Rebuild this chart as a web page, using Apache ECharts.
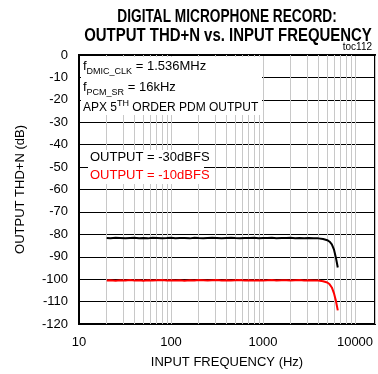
<!DOCTYPE html>
<html><head><meta charset="utf-8">
<script src="https://cdn.jsdelivr.net/npm/echarts@6/dist/echarts.min.js"></script>
<style>html,body{margin:0;padding:0;background:#fff}#c{width:378px;height:374px}</style>
</head><body><div id="c"></div>
<script>
const freqs = [20, 22, 25, 28, 32, 36, 40, 45, 50, 56, 63, 71, 80, 90, 100, 112, 125, 140, 160, 180, 200, 224, 250, 280, 315, 355, 400, 450, 500, 560, 630, 710, 800, 900, 1000, 1120, 1250, 1400, 1600, 1800, 2000, 2240, 2500, 2800, 3150, 3550, 4000, 4500, 5000, 5300, 5600, 5900, 6200, 6500];
const out30 = [-81.6,-81.7,-81.5,-81.6,-81.8,-81.6,-81.5,-81.7,-81.6,
  -81.8,-81.5,-81.6,-81.7,-81.6,-81.5,
  -81.7,-81.6,-81.6,-81.8,-81.5,-81.6,
  -81.7,-81.6,-81.5,-81.6,-81.7,-81.6,
  -81.5,-81.6,-81.7,-81.6,-81.6,-81.5,
  -81.7,-81.6,-81.6,-81.5,-81.7,-81.6,
  -81.6,-81.5,-81.7,-81.6,-81.8,-81.6,
  -81.7,-81.8,-82.1,-82.6,-83.3,-84.5,
  -86.7,-90.4,-94.8];
const out10 = [-100.6,-100.5,-100.7,-100.5,-100.6,-100.4,-100.6,-100.5,-100.7,
  -100.5,-100.6,-100.5,-100.4,-100.6,-100.5,
  -100.6,-100.5,-100.7,-100.5,-100.6,-100.4,
  -100.5,-100.6,-100.5,-100.4,-100.6,-100.5,
  -100.6,-100.5,-100.4,-100.6,-100.5,-100.6,
  -100.5,-100.6,-100.5,-100.4,-100.6,-100.5,
  -100.5,-100.6,-100.5,-100.4,-100.6,-100.5,
  -100.6,-100.6,-100.9,-101.5,-102.3,-103.7,
  -106.2,-109.6,-113.9];
const minorFreqs = [20,30,40,50,60,70,80,90,200,300,400,500,600,700,800,900,2000,3000,4000,5000,6000,7000,8000,9000];
const xMin = 10, xMax = 16500;
const yMin = -120, yMax = 0, yStep = 10;
const xTickLabels = [10, 100, 1000, 10000];
const titleLines = ['DIGITAL MICROPHONE RECORD:', 'OUTPUT THD+N vs. INPUT FREQUENCY'];

const FONT = '"Liberation Sans", Arial, sans-serif';
const chart = echarts.init(document.getElementById('c'), null, {renderer: 'canvas'});
chart.setOption({
  animation: false,
  grid: {left: 79, right: 3, top: 55, bottom: 50, show: true, borderColor: '#000', borderWidth: 2, backgroundColor: 'transparent'},
  xAxis: {
    type: 'log', logBase: 10, min: xMin, max: xMax,
    name: 'INPUT FREQUENCY (Hz)', nameLocation: 'middle', nameGap: 32,
    nameTextStyle: {fontFamily: FONT, fontSize: 13, color: '#000'},
    axisLine: {show: true, lineStyle: {color: '#000', width: 2}},
    axisTick: {show: false},
    axisLabel: {fontFamily: FONT, fontSize: 13, color: '#000', margin: 12,
      formatter: v => xTickLabels.indexOf(Math.round(v)) >= 0 ? String(Math.round(v)) : ''},
    splitLine: {show: true, lineStyle: {color: '#c8c8c8', width: 1}}
  },
  yAxis: {
    type: 'value', min: yMin, max: yMax, interval: yStep,
    name: 'OUTPUT THD+N (dB)', nameLocation: 'middle', nameGap: 52,
    nameTextStyle: {fontFamily: FONT, fontSize: 13, color: '#000'},
    axisLine: {show: true, lineStyle: {color: '#000', width: 2}},
    axisTick: {show: false},
    axisLabel: {fontFamily: FONT, fontSize: 13, color: '#000', margin: 11},
    splitLine: {show: true, lineStyle: {color: '#000', width: 1}}
  },
  series: [
    {type: 'line', name: 'grid', data: [], silent: true, z: 1,
     markLine: {silent: true, symbol: 'none', label: {show: false},
       lineStyle: {color: '#c8c8c8', width: 1, type: 'solid'},
       data: minorFreqs.map(f => ({xAxis: f}))}},
    {type: 'line', name: 'OUTPUT = -30dBFS', data: freqs.map((f, i) => [f, out30[i]]),
     showSymbol: false, lineStyle: {color: '#000', width: 2}, itemStyle: {color: '#000'}, z: 5},
    {type: 'line', name: 'OUTPUT = -10dBFS', data: freqs.map((f, i) => [f, out10[i]]),
     showSymbol: false, lineStyle: {color: '#ff0000', width: 2}, itemStyle: {color: '#ff0000'}, z: 5}
  ],
  graphic: [
    {type: 'text', z: 60, x: 227, y: 17, scaleX: 0.76, style: {
      text: titleLines[0], fill: '#000', font: 'bold 18px ' + FONT, textAlign: 'center', textVerticalAlign: 'middle'}},
    {type: 'text', z: 60, x: 228, y: 36, scaleX: 0.83, style: {
      text: titleLines[1], fill: '#000', font: 'bold 18px ' + FONT, textAlign: 'center', textVerticalAlign: 'middle'}},
    {type: 'rect', z: 50, shape: {x: 81, y: 57, width: 181, height: 58}, style: {fill: '#fff'}},
    {type: 'rect', z: 50, shape: {x: 88, y: 150, width: 116, height: 34}, style: {fill: '#fff'}},
    {type: 'text', z: 60, x: 83, y: 60, style: {
      text: '{a|f}{s|DMIC_CLK}{a| = 1.536MHz}', fill: '#000',
      rich: {a: {fontFamily: FONT, fontSize: 13, lineHeight: 14, verticalAlign: 'top'},
             s: {fontFamily: FONT, fontSize: 9, lineHeight: 10, padding: [7, 0, 0, 0], verticalAlign: 'top'}}}},
    {type: 'text', z: 60, x: 83, y: 81, style: {
      text: '{a|f}{s|PCM_SR}{a| = 16kHz}', fill: '#000',
      rich: {a: {fontFamily: FONT, fontSize: 13, lineHeight: 14, verticalAlign: 'top'},
             s: {fontFamily: FONT, fontSize: 9, lineHeight: 10, padding: [7, 0, 0, 0], verticalAlign: 'top'}}}},
    {type: 'text', z: 60, x: 83, y: 99, style: {
      text: '{a|APX 5}{p|TH}{a| ORDER PDM OUTPUT}', fill: '#000',
      rich: {a: {fontFamily: FONT, fontSize: 12, lineHeight: 14, padding: [3, 0, 0, 0], verticalAlign: 'top'},
             p: {fontFamily: FONT, fontSize: 9, lineHeight: 10, verticalAlign: 'top'}}}},
    {type: 'text', z: 60, x: 90, y: 151, style: {text: 'OUTPUT = -30dBFS', fill: '#000', font: '13px ' + FONT}},
    {type: 'text', z: 60, x: 90, y: 169, style: {text: 'OUTPUT = -10dBFS', fill: '#ff0000', font: '13px ' + FONT}},
    {type: 'text', z: 60, right: 6, top: 42, style: {text: 'toc112', fill: '#000', font: '10px ' + FONT}}
  ]
});
</script></body></html>
